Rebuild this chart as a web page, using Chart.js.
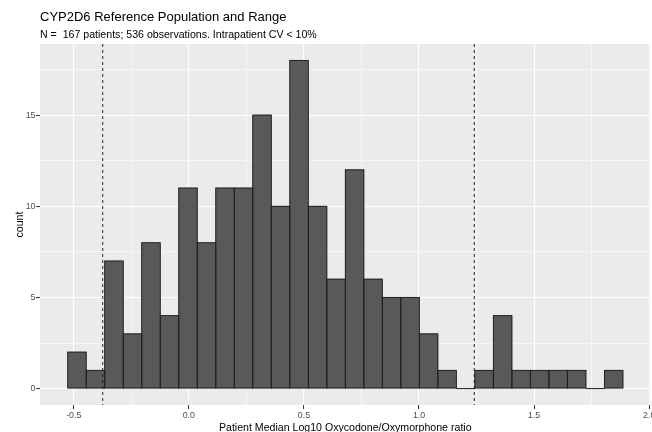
<!DOCTYPE html>
<html>
<head>
<meta charset="utf-8">
<script src="https://cdn.jsdelivr.net/npm/chart.js@4.4.1/dist/chart.umd.min.js"></script>
<style>
  html, body { margin: 0; padding: 0; background: #ffffff; }
  canvas { display: block; }
</style>
</head>
<body>
<canvas id="c" width="652" height="432"></canvas>
<script>
// Histogram bins: centre of each bin (log10 ratio) and patient count per bin
const binCenters = [
  -0.4860, -0.4056, -0.3252, -0.2448, -0.1644, -0.0840, -0.0036, 0.0768, 0.1572, 0.2376,
   0.3180,  0.3984,  0.4788,  0.5592,  0.6396,  0.7200,  0.8004, 0.8808, 0.9612, 1.0416,
   1.1220,  1.2024,  1.2828,  1.3632,  1.4436,  1.5240,  1.6044, 1.6848, 1.7652, 1.8456
];
const counts = [
  2, 1, 7, 3, 8, 4, 11, 8, 11, 11,
  15, 10, 18, 10, 6, 12, 6, 5, 5, 3,
  1, 0, 1, 4, 1, 1, 1, 1, 0, 1
];

// Reference range limits (dashed vertical lines)
const referenceLimits = [-0.374, 1.240];

// Labelled (major) ticks; minor grid lines fall halfway between them
const xMajorTicks = [-0.5, 0.0, 0.5, 1.0, 1.5, 2.0];
const yMajorTicks = [0, 5, 10, 15];

const titleText = 'CYP2D6 Reference Population and Range';
const subtitleText = 'N =  167 patients; 536 observations. Intrapatient CV < 10%';
const xTitleText = 'Patient Median Log10 Oxycodone/Oxymorphone ratio';
const yTitleText = 'count';

const FONT = '"Liberation Sans", Arial, Helvetica, sans-serif';

const isMajor = (list, v) => list.some(t => Math.abs(t - v) < 1e-6);

// Panel background, bar outlines, reference lines and plot titles
const ggLook = {
  id: 'ggLook',
  beforeDraw(chart) {
    const { ctx, chartArea: a } = chart;
    ctx.save();
    ctx.fillStyle = '#EBEBEB';
    ctx.fillRect(a.left, a.top, a.right - a.left, a.bottom - a.top);
    ctx.restore();
  },
  afterDatasetsDraw(chart) {
    const { ctx, chartArea: a, scales } = chart;
    const meta = chart.getDatasetMeta(0);
    ctx.save();
    ctx.strokeStyle = '#1E1E1E';
    ctx.lineWidth = 0.9;
    meta.data.forEach(bar => {
      const p = bar.getProps(['x', 'y', 'base', 'width'], true);
      const l = p.x - p.width / 2;
      const r = p.x + p.width / 2;
      if (Math.abs(p.base - p.y) < 0.01) {
        ctx.beginPath();
        ctx.moveTo(l, p.base);
        ctx.lineTo(r, p.base);
        ctx.stroke();
      } else {
        ctx.strokeRect(l, p.y, r - l, p.base - p.y);
      }
    });

    ctx.setLineDash([3, 3]);
    ctx.strokeStyle = '#111111';
    ctx.lineWidth = 0.9;
    referenceLimits.forEach(v => {
      const px = scales.x.getPixelForValue(v);
      ctx.beginPath();
      ctx.moveTo(px, a.top);
      ctx.lineTo(px, a.bottom);
      ctx.stroke();
    });
    ctx.restore();
  },
  afterDraw(chart) {
    const { ctx, chartArea: a } = chart;
    ctx.save();
    ctx.fillStyle = '#000000';
    ctx.textBaseline = 'alphabetic';
    ctx.textAlign = 'left';
    ctx.font = `13px ${FONT}`;
    ctx.fillText(titleText, 40, 21);
    ctx.font = `10.6px ${FONT}`;
    ctx.fillText(subtitleText, 40, 37.5);

    ctx.textAlign = 'center';
    ctx.fillText(xTitleText, (a.left + a.right) / 2, 430.6);

    ctx.translate(22.5, (a.top + a.bottom) / 2);
    ctx.rotate(-Math.PI / 2);
    ctx.fillText(yTitleText, 0, 0);
    ctx.restore();
  }
};

const gridFor = list => ({
  offset: false,
  color: '#FFFFFF',
  lineWidth: c => (c.tick && isMajor(list, c.tick.value)) ? 1.1 : 0.55,
  tickColor: c => (c.tick && isMajor(list, c.tick.value)) ? '#333333' : 'rgba(0,0,0,0)',
  tickWidth: 1,
  tickLength: 4,
  drawTicks: true
});

new Chart(document.getElementById('c'), {
  type: 'bar',
  data: {
    datasets: [{
      data: binCenters.map((c, i) => ({ x: c, y: counts[i] })),
      backgroundColor: '#595959',
      borderWidth: 0,
      barPercentage: 1,
      categoryPercentage: 1
    }]
  },
  options: {
    responsive: false,
    animation: false,
    events: [],
    layout: { padding: { top: 44, right: 1.5, bottom: 0, left: 0 } },
    plugins: {
      legend: { display: false },
      tooltip: { enabled: false },
      title: { display: false }
    },
    scales: {
      x: {
        type: 'linear',
        min: -0.6466,
        max: 2.0056,
        offset: false,
        border: { display: false },
        grid: gridFor(xMajorTicks),
        ticks: {
          stepSize: 0.25,
          includeBounds: false,
          autoSkip: false,
          maxRotation: 0,
          padding: 1,
          color: '#4D4D4D',
          font: { family: FONT, size: 8.8 },
          callback: v => isMajor(xMajorTicks, v) ? Number(v).toFixed(1) : ''
        },
        afterFit(s) {
          s.height = 27;
          s.paddingLeft = 0;
          s.paddingRight = 0;
        }
      },
      y: {
        type: 'linear',
        min: -0.9,
        max: 18.9,
        border: { display: false },
        grid: gridFor(yMajorTicks),
        ticks: {
          stepSize: 2.5,
          includeBounds: false,
          autoSkip: false,
          padding: 0.5,
          color: '#4D4D4D',
          font: { family: FONT, size: 8.8 },
          callback: v => isMajor(yMajorTicks, v) ? String(v) : ''
        },
        afterFit(s) {
          s.width = 40;
          s.paddingTop = 0;
          s.paddingBottom = 0;
        }
      }
    }
  },
  plugins: [ggLook]
});
</script>
</body>
</html>
